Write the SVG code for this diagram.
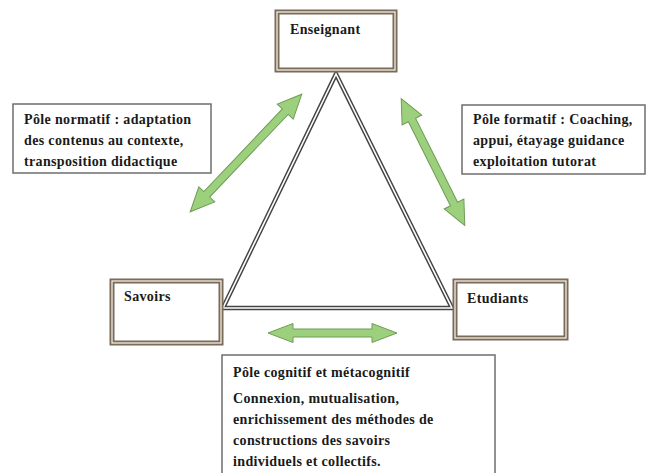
<svg xmlns="http://www.w3.org/2000/svg" width="649" height="473" viewBox="0 0 649 473">
<style>
text{font-family:'Liberation Serif','DejaVu Serif','Times New Roman',serif;font-weight:bold;font-size:14px;letter-spacing:0.35px;fill:#1a1a1a}
.nb{fill:#fff;stroke:#7a6a58;stroke-width:5}
.nbi{fill:none;stroke:#f2ede6;stroke-width:1.3}
.tb{fill:#fff;stroke:#6e6e6e;stroke-width:1.5}
.arr{fill:#9dd07c;stroke:#6f9c58;stroke-width:1}
.tri1{fill:none;stroke:#444;stroke-width:4.5;stroke-linejoin:miter}
.tri2{fill:none;stroke:#fff;stroke-width:1.6;stroke-linejoin:miter}
</style>
<rect width="649" height="473" fill="#fff"/>
<g id="connectors">
<polygon class="tri1" points="336,74 223,308 452,308"/>
<polygon class="tri2" points="336,74 223,308 452,308"/>
<polygon class="arr" points="268,333 293,323.5 293,329 372,329 372,323.5 397,333 372,342.5 372,337 293,337 293,342.5"/>
<polygon class="arr" transform="translate(246,153) rotate(-46.5)" points="-81,0 -57,-11 -57,-4 57,-4 57,-11 81,0 57,11 57,4 -57,4 -57,11"/>
<polygon class="arr" transform="translate(433,162) rotate(63.4)" points="-71,0 -47,-11 -47,-4 47,-4 47,-11 71,0 47,11 47,4 -47,4 -47,11"/>
</g>
<g id="enseignant">
<rect class="nb" x="277" y="12" width="118" height="58"/>
<rect class="nbi" x="277" y="12" width="118" height="58"/>
<text x="290" y="34">Enseignant</text>
</g>
<g id="savoirs">
<rect class="nb" x="112" y="281" width="109" height="62"/>
<rect class="nbi" x="112" y="281" width="109" height="62"/>
<text x="124" y="301">Savoirs</text>
</g>
<g id="etudiants">
<rect class="nb" x="455" y="281" width="111" height="57"/>
<rect class="nbi" x="455" y="281" width="111" height="57"/>
<text x="467" y="303">Etudiants</text>
</g>
<g id="normatif">
<rect class="tb" x="13" y="104" width="198" height="69"/>
<text x="24" y="124">Pôle normatif : adaptation</text>
<text x="24" y="145">des contenus au contexte,</text>
<text x="24" y="166">transposition didactique</text>
</g>
<g id="formatif">
<rect class="tb" x="462" y="105" width="183" height="69"/>
<text x="473" y="124">Pôle formatif : Coaching,</text>
<text x="473" y="145">appui, étayage guidance</text>
<text x="473" y="166">exploitation tutorat</text>
</g>
<g id="cognitif">
<rect class="tb" x="222" y="355" width="273" height="125"/>
<text x="233" y="377">Pôle cognitif et métacognitif</text>
<text x="233" y="403">Connexion, mutualisation,</text>
<text x="233" y="424">enrichissement des méthodes de</text>
<text x="233" y="445">constructions des savoirs</text>
<text x="233" y="466">individuels et collectifs.</text>
</g>
</svg>
